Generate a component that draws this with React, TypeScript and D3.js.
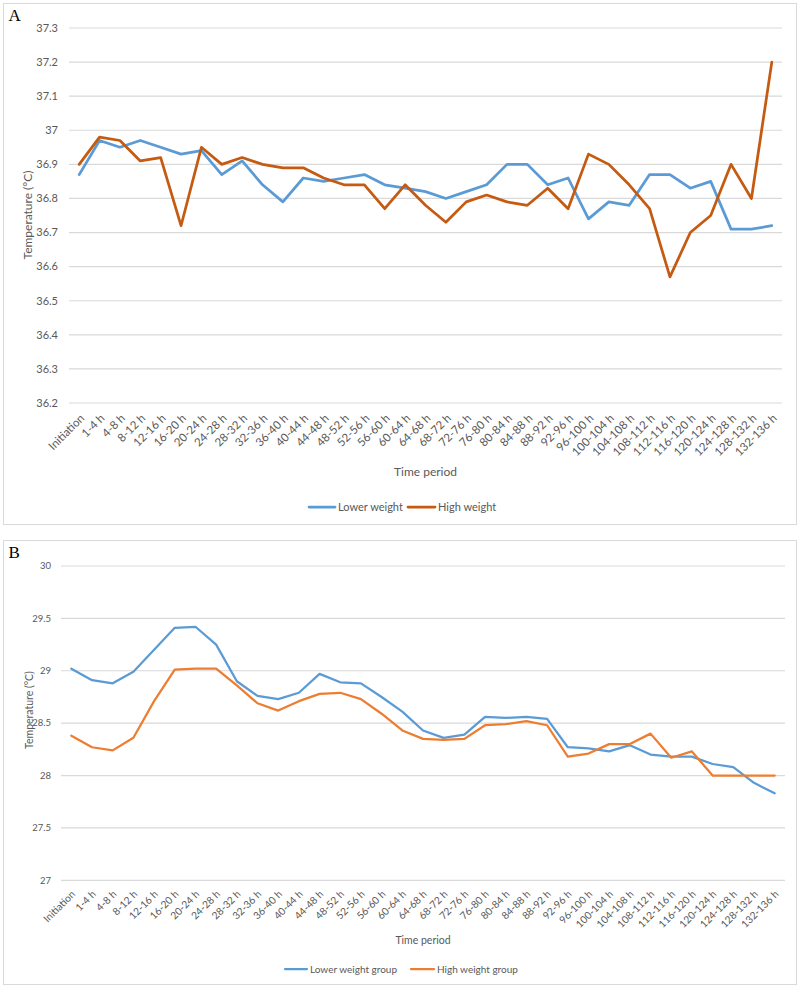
import React from "react";
import * as d3 from "d3";

const categories: string[] = [
  "Initiation", "1-4 h", "4-8 h", "8-12 h", "12-16 h", "16-20 h", "20-24 h", "24-28 h", "28-32 h",
  "32-36 h", "36-40 h", "40-44 h", "44-48 h", "48-52 h", "52-56 h", "56-60 h", "60-64 h", "64-68 h",
  "68-72 h", "72-76 h", "76-80 h", "80-84 h", "84-88 h", "88-92 h", "92-96 h", "96-100 h", "100-104 h",
  "104-108 h", "108-112 h", "112-116 h", "116-120 h", "120-124 h", "124-128 h", "128-132 h", "132-136 h",
];

// Panel A (body temperature)
const lowerWeightA: number[] = [
  36.87, 36.97, 36.95, 36.97, 36.95, 36.93, 36.94, 36.87, 36.91, 36.84, 36.79, 36.86, 36.85, 36.86,
  36.87, 36.84, 36.83, 36.82, 36.80, 36.82, 36.84, 36.90, 36.90, 36.84, 36.86, 36.74, 36.79, 36.78,
  36.87, 36.87, 36.83, 36.85, 36.71, 36.71, 36.72,
];
const highWeightA: number[] = [
  36.90, 36.98, 36.97, 36.91, 36.92, 36.72, 36.95, 36.90, 36.92, 36.90, 36.89, 36.89, 36.86, 36.84,
  36.84, 36.77, 36.84, 36.78, 36.73, 36.79, 36.81, 36.79, 36.78, 36.83, 36.77, 36.93, 36.90, 36.84,
  36.77, 36.57, 36.70, 36.75, 36.90, 36.80, 37.20,
];
const yTicksA: number[] = [36.2, 36.3, 36.4, 36.5, 36.6, 36.7, 36.8, 36.9, 37.0, 37.1, 37.2, 37.3];

// Panel B
const lowerWeightB: number[] = [
  29.02, 28.91, 28.88, 28.99, 29.20, 29.41, 29.42, 29.25, 28.90, 28.76, 28.73, 28.79, 28.97, 28.89,
  28.88, 28.75, 28.61, 28.43, 28.36, 28.39, 28.56, 28.55, 28.56, 28.54, 28.27, 28.26, 28.23, 28.29,
  28.20, 28.18, 28.18, 28.11, 28.08, 27.93, 27.83,
];
const highWeightB: number[] = [
  28.38, 28.27, 28.24, 28.36, 28.71, 29.01, 29.02, 29.02, 28.86, 28.69, 28.62, 28.71, 28.78, 28.79,
  28.73, 28.59, 28.43, 28.35, 28.34, 28.35, 28.48, 28.49, 28.52, 28.48, 28.18, 28.21, 28.30, 28.30,
  28.40, 28.17, 28.23, 28.00, 28.00, 28.00, 28.00,
];
const yTicksB: number[] = [27, 27.5, 28, 28.5, 29, 29.5, 30];

const TEXT = "#595959";
const GRID = "#D9D9D9";
const FONT = "Lato, 'Open Sans', sans-serif";

type PanelProps = {
  letter: string;
  box: [number, number, number, number];
  plot: { x0: number; x1: number; yTop: number; yBottom: number };
  domain: [number, number];
  ticks: number[];
  series: { name: string; values: number[]; color: string }[];
  lineWidth: number;
  tickFont: number;
  xTickFont: number;
  tickRight: number;
  xLabelOffset: [number, number];
  axisTitleFont: number;
  yTitle: { x: number; y: number };
  xTitleY: number;
  legend: { y: number; items: { swatchX: number; textX: number }[]; font: number };
};

function Panel(p: PanelProps) {
  const x = d3.scalePoint<string>().domain(categories).range([p.plot.x0, p.plot.x1]).padding(0.5);
  const y = d3.scaleLinear().domain(p.domain).range([p.plot.yBottom, p.plot.yTop]);
  const line = d3
    .line<number>()
    .x((_, i) => x(categories[i]) as number)
    .y((d) => y(d));
  const [bx, by, bw, bh] = p.box;
  const fmt = (v: number) => String(Number(v.toFixed(1)));
  return (
    <g>
      <rect x={bx + 0.5} y={by + 0.5} width={bw} height={bh} fill="#fff" stroke={GRID} strokeWidth={1} />
      <text x={bx + 5.5} y={by + 18} fontFamily="'Liberation Serif', 'Times New Roman', serif" fontSize={17} fill="#000">
        {p.letter}
      </text>
      {p.ticks.map((t) => (
        <g key={t}>
          <line x1={p.plot.x0} x2={p.plot.x1} y1={y(t)} y2={y(t)} stroke={GRID} strokeWidth={1.2} />
          <text x={p.tickRight} y={y(t)} dy="0.35em" textAnchor="end" fontFamily={FONT} fontSize={p.tickFont} fill={TEXT}>
            {fmt(t)}
          </text>
        </g>
      ))}
      {categories.map((c) => (
        <text
          key={c}
          transform={`translate(${(x(c) as number) + p.xLabelOffset[0]},${p.plot.yBottom + p.xLabelOffset[1]}) rotate(-45)`}
          textAnchor="end"
          dy="0.35em"
          fontFamily={FONT}
          fontSize={p.xTickFont}
          fill={TEXT}
        >
          {c}
        </text>
      ))}
      {p.series.map((s) => (
        <path
          key={s.name}
          d={line(s.values) || ""}
          fill="none"
          stroke={s.color}
          strokeWidth={p.lineWidth}
          strokeLinejoin="round"
          strokeLinecap="round"
        />
      ))}
      <text
        transform={`translate(${p.yTitle.x},${p.yTitle.y}) rotate(-90)`}
        textAnchor="middle"
        dy="0.35em"
        fontFamily={FONT}
        fontSize={p.axisTitleFont}
        fill={TEXT}
      >
        Temperature (°C)
      </text>
      <text
        x={(p.plot.x0 + p.plot.x1) / 2}
        y={p.xTitleY}
        dy="0.35em"
        textAnchor="middle"
        fontFamily={FONT}
        fontSize={p.axisTitleFont}
        fill={TEXT}
      >
        Time period
      </text>
      {p.series.map((s, i) => (
        <g key={"lg" + s.name}>
          <line
            x1={p.legend.items[i].swatchX}
            x2={p.legend.items[i].textX - 3}
            y1={p.legend.y}
            y2={p.legend.y}
            stroke={s.color}
            strokeWidth={p.lineWidth}
            strokeLinecap="round"
          />
          <text x={p.legend.items[i].textX} y={p.legend.y} dy="0.35em" fontFamily={FONT} fontSize={p.legend.font} fill={TEXT}>
            {s.name}
          </text>
        </g>
      ))}
    </g>
  );
}

export default function App() {
  return (
    <svg width={800} height={988} style={{ position: "absolute", left: 0, top: 0, background: "#fff" }}>
      <rect x={0} y={0} width={800} height={988} fill="#fff" />
      <Panel
        letter="A"
        box={[3, 3, 793, 521]}
        plot={{ x0: 69, x1: 782, yTop: 28, yBottom: 403 }}
        domain={[36.2, 37.3]}
        ticks={yTicksA}
        series={[
          { name: "Lower weight", values: lowerWeightA, color: "#5B9BD5" },
          { name: "High weight", values: highWeightA, color: "#C55A11" },
        ]}
        lineWidth={2.75}
        tickFont={11}
        xTickFont={11.5}
        tickRight={58}
        xLabelOffset={[3, 13]}
        axisTitleFont={12}
        yTitle={{ x: 28, y: 215 }}
        xTitleY={472}
        legend={{ y: 507, font: 11, items: [{ swatchX: 309, textX: 338 }, { swatchX: 408, textX: 438 }] }}
      />
      <Panel
        letter="B"
        box={[3, 540, 793, 444]}
        plot={{ x0: 61, x1: 785, yTop: 566, yBottom: 880.3 }}
        domain={[27, 30]}
        ticks={yTicksB}
        series={[
          { name: "Lower weight group", values: lowerWeightB, color: "#5B9BD5" },
          { name: "High weight group", values: highWeightB, color: "#ED7D31" },
        ]}
        lineWidth={2.25}
        tickFont={9.5}
        xTickFont={10.2}
        tickRight={51}
        xLabelOffset={[2, 12]}
        axisTitleFont={10.5}
        yTitle={{ x: 29, y: 710 }}
        xTitleY={940.5}
        legend={{ y: 969, font: 10, items: [{ swatchX: 285, textX: 310 }, { swatchX: 411, textX: 437 }] }}
      />
    </svg>
  );
}
